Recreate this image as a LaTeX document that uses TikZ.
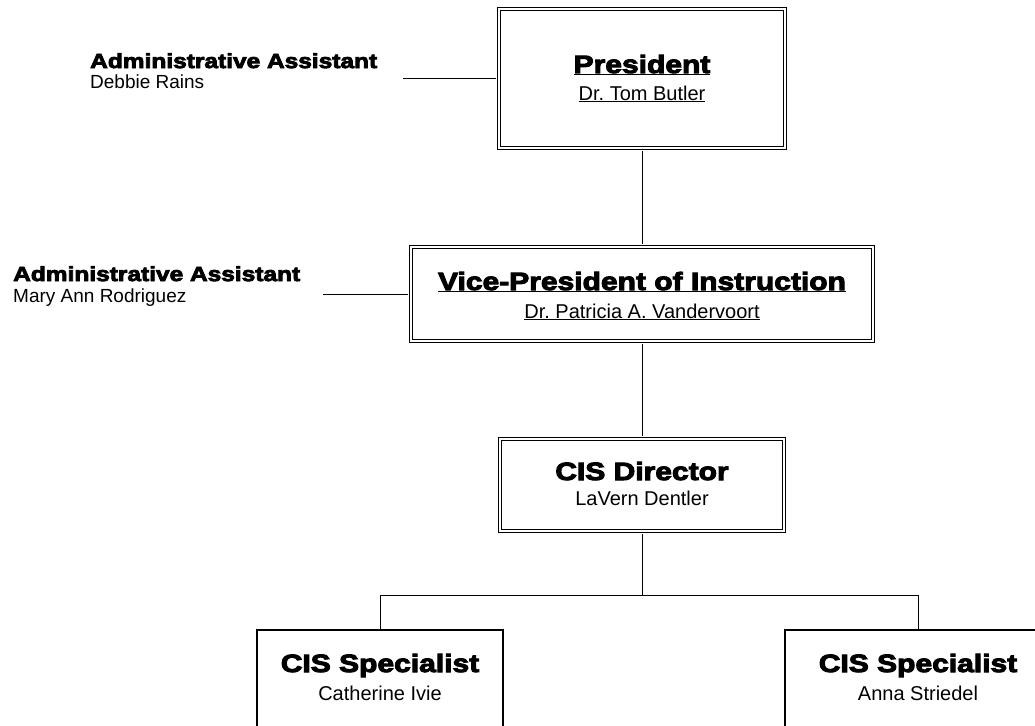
\documentclass[tikz,border=0pt]{standalone}
\usepackage{fontspec}
\setmainfont{Liberation Sans}
\newfontfamily\heavyfont[BoldFeatures={FakeBold=4,FakeStretch=1.2}]{Liberation Sans}
\frenchspacing
\tikzset{
  dbox/.style={draw, line width=1.1pt, double=white, double distance=2.2pt, rectangle, inner sep=0pt},
  sbox/.style={draw, line width=1.1pt, rectangle, inner sep=0pt},
  conn/.style={line width=0.9pt},
  ttl/.style={anchor=base, inner sep=0pt, font=\heavyfont\bfseries\fontsize{25}{25}\selectfont},
  nm/.style={anchor=base, inner sep=0pt, font=\fontsize{20}{20}\selectfont},
  attl/.style={anchor=base west, inner sep=0pt, font=\heavyfont\bfseries\fontsize{20.4}{20.4}\selectfont},
  anm/.style={anchor=base west, inner sep=0pt, font=\fontsize{19}{19}\selectfont}
}
\begin{document}
\begin{tikzpicture}[x=1pt,y=-1pt]
\useasboundingbox (0,0) rectangle (1035,725);
\clip (0,0) rectangle (1035,725);
% boxes
\node[dbox, minimum width=286pt, minimum height=139pt] (pres) at (642,78.5) {};
\node[dbox, minimum width=462pt, minimum height=94pt] (vp) at (642,294) {};
\node[dbox, minimum width=284pt, minimum height=92pt] (dir) at (642,485) {};
\node[sbox, minimum width=246pt, minimum height=115pt] (spec1) at (380,687.5) {};
\node[sbox, minimum width=266pt, minimum height=115pt] (spec2) at (918,687.5) {};
% texts
\node[ttl] (prest) at (642,73) {\underline{President}};
\node[nm] (presn) at (642,100) {\underline{Dr. Tom Butler}};
\node[ttl] (vpt) at (642,290) {\underline{Vice-President of Instruction}};
\node[nm] (vpn) at (642,318) {\underline{Dr. Patricia A. Vandervoort}};
\node[ttl] (dirt) at (642,480) {CIS Director};
\node[nm] (dirn) at (642,505) {LaVern Dentler};
\node[ttl] (s1t) at (380,672) {CIS Specialist};
\node[nm] (s1n) at (380,700) {Catherine Ivie};
\node[ttl] (s2t) at (918,672) {CIS Specialist};
\node[nm] (s2n) at (918,700) {Anna Striedel};
\node[attl] (a1t) at (90,68) {Administrative Assistant};
\node[anm] (a1n) at (90,88) {Debbie Rains};
\node[attl] (a2t) at (13,281) {Administrative Assistant};
\node[anm] (a2n) at (13,302) {Mary Ann Rodriguez};
% connectors
\coordinate (a1e) at (403,78.5);
\coordinate (a2e) at (323,294);
\coordinate (bar) at (642,595);
\draw[conn, shorten >=2.2pt] (a1e) -- (pres.west);
\draw[conn, shorten >=2.2pt] (a2e) -- (vp.west);
\draw[conn, shorten <=2.2pt, shorten >=2.2pt] (pres.south) -- (vp.north);
\draw[conn, shorten <=2.2pt, shorten >=2.2pt] (vp.south) -- (dir.north);
\draw[conn, shorten <=2.2pt] (dir.south) -- (bar);
\draw[conn] (spec1.north) -- (spec1.north |- bar) -- (spec2.north |- bar) -- (spec2.north);
\end{tikzpicture}
\end{document}
